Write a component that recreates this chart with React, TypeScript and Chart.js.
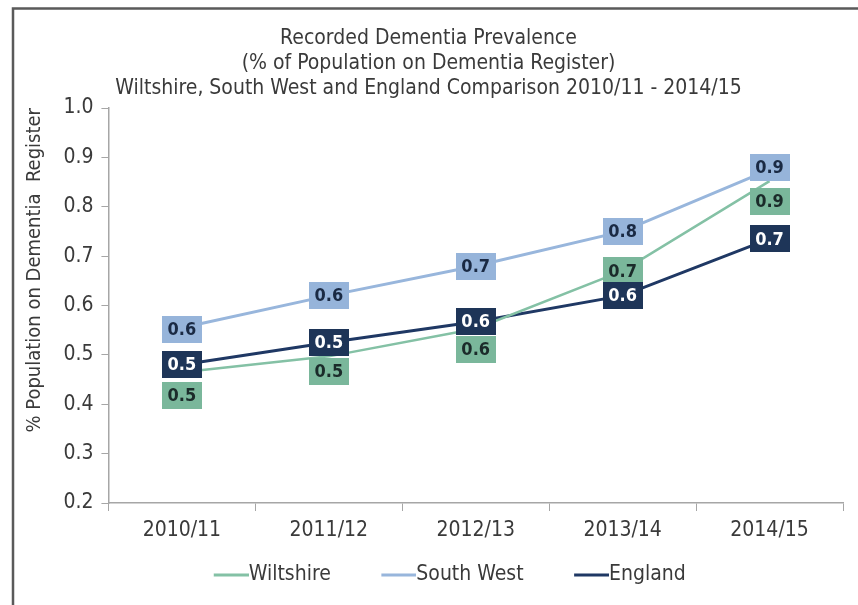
import React, { useEffect, useRef } from 'react';
import { Chart, registerables } from 'chart.js';

Chart.register(...registerables);

const categories = ['2010/11', '2011/12', '2012/13', '2013/14', '2014/15'];
const wiltshire = [0.465, 0.497, 0.553, 0.67, 0.852];
const southWest = [0.555, 0.62, 0.68, 0.75, 0.875];
const england = [0.48, 0.525, 0.567, 0.62, 0.735];
const yTicks = [0.2, 0.3, 0.4, 0.5, 0.6, 0.7, 0.8, 0.9, 1.0];
const seriesNames = ['Wiltshire', 'South West', 'England'];
const titleLines = [
  'Recorded Dementia Prevalence',
  '(% of Population on Dementia Register)',
  'Wiltshire, South West and England Comparison 2010/11 - 2014/15',
];
const yAxisTitle = '% Population on Dementia  Register';

const FONT = '"DejaVu Sans Condensed", "DejaVu Sans", sans-serif';
const TEXT = '#3a3a3a';
const GREEN = '#84C1A5';
const LIGHTBLUE = '#98B6DC';
const NAVY = '#1F3864';

const LEGEND_FONT = 21;
const SWATCH_LINE = 35;
const SWATCH_IMG = 88;

function legendSwatch(color: string): HTMLCanvasElement {
  const c = document.createElement('canvas');
  c.width = SWATCH_IMG;
  c.height = 6;
  const g = c.getContext('2d')!;
  g.strokeStyle = color;
  g.lineWidth = 3;
  g.beginPath();
  g.moveTo(SWATCH_IMG - SWATCH_LINE, 3);
  g.lineTo(SWATCH_IMG, 3);
  g.stroke();
  return c;
}

const boxLabels = {
  id: 'boxLabels',
  afterDatasetsDraw(chart: any) {
    const ctx = chart.ctx as CanvasRenderingContext2D;
    ctx.save();
    chart.data.datasets.forEach((ds: any, di: number) => {
      const meta = chart.getDatasetMeta(di);
      const st = ds.boxLabel;
      meta.data.forEach((pt: any, i: number) => {
        const text = Number(ds.data[i]).toFixed(1);
        ctx.font = 'bold 18px ' + FONT;
        const w = ctx.measureText(text).width + 11;
        const h = 27;
        const x = pt.x;
        const y = pt.y + st.offsets[i];
        ctx.fillStyle = st.bg;
        ctx.fillRect(Math.round(x - w / 2), Math.round(y - h / 2), Math.round(w), h);
        ctx.fillStyle = st.color;
        ctx.textAlign = 'center';
        ctx.textBaseline = 'middle';
        ctx.fillText(text, x, y + 1);
      });
    });
    ctx.restore();
  },
};

const frame = {
  id: 'frame',
  beforeDraw(chart: any) {
    const ctx = chart.ctx as CanvasRenderingContext2D;
    ctx.save();
    ctx.fillStyle = '#ffffff';
    ctx.fillRect(0, 0, chart.width, chart.height);
    ctx.strokeStyle = '#5a5a5a';
    ctx.lineWidth = 2.5;
    ctx.beginPath();
    ctx.moveTo(13, chart.height + 2);
    ctx.lineTo(13, 8.5);
    ctx.lineTo(chart.width + 2, 8.5);
    ctx.stroke();
    ctx.restore();
  },
};

export default function App() {
  const ref = useRef<HTMLCanvasElement | null>(null);
  useEffect(() => {
    if (!ref.current) return;
    const chart = new Chart(ref.current, {
      type: 'line',
      data: {
        labels: categories,
        datasets: [
          {
            label: seriesNames[0],
            data: wiltshire,
            borderColor: GREEN,
            backgroundColor: GREEN,
            borderWidth: 2.5,
            pointRadius: 0,
            pointHoverRadius: 0,
            pointStyle: legendSwatch(GREEN) as any,
            boxLabel: { bg: '#7AB79B', color: '#1b2b2a', offsets: [23, 15, 21, 0, 20] },
          } as any,
          {
            label: seriesNames[1],
            data: southWest,
            borderColor: LIGHTBLUE,
            backgroundColor: LIGHTBLUE,
            borderWidth: 3,
            pointRadius: 0,
            pointHoverRadius: 0,
            pointStyle: legendSwatch(LIGHTBLUE) as any,
            boxLabel: { bg: '#96B4DA', color: '#1a2a44', offsets: [2, 0, 0, 0, -2] },
          } as any,
          {
            label: seriesNames[2],
            data: england,
            borderColor: NAVY,
            backgroundColor: NAVY,
            borderWidth: 3,
            pointRadius: 0,
            pointHoverRadius: 0,
            pointStyle: legendSwatch(NAVY) as any,
            boxLabel: { bg: '#1E3558', color: '#ffffff', offsets: [0, 0, 0, 0, 0] },
          } as any,
        ],
      },
      options: {
        responsive: false,
        animation: false,
        devicePixelRatio: 1,
        layout: { padding: { left: 14, right: 15, top: 10, bottom: 9.5 } },
        plugins: {
          tooltip: { enabled: false },
          title: {
            display: true,
            text: titleLines,
            color: TEXT,
            font: { family: FONT, size: 21, weight: 'normal', lineHeight: 25 / 21 },
            padding: { top: 16.5, bottom: 6.5 },
          },
          legend: {
            display: true,
            position: 'bottom',
            labels: {
              usePointStyle: true,
              pointStyleWidth: SWATCH_IMG - LEGEND_FONT,
              boxHeight: LEGEND_FONT,
              padding: 8,
              color: TEXT,
              font: { family: FONT, size: LEGEND_FONT },
            },
          },
        },
        scales: {
          x: {
            type: 'category',
            offset: true,
            grid: { offset: true, drawOnChartArea: false, drawTicks: true, tickLength: 8, color: '#a6a6a6' },
            border: { color: '#a6a6a6', width: 1.5 },
            ticks: { color: TEXT, font: { family: FONT, size: 21 }, padding: 7, maxRotation: 0 },
            afterFit: (s: any) => { s.height += 6.3; },
          },
          y: {
            min: 0.2,
            max: 1.0,
            afterBuildTicks: (axis: any) => { axis.ticks = yTicks.map((v) => ({ value: v })); },
            grid: { drawOnChartArea: false, drawTicks: true, tickLength: 7, color: '#a6a6a6' },
            border: { color: '#a6a6a6', width: 1.5 },
            ticks: {
              color: TEXT,
              font: { family: FONT, size: 21 },
              padding: 8,
              callback: (v: any) => Number(v).toFixed(1),
            },
            title: {
              display: true,
              text: yAxisTitle,
              align: 'end',
              color: TEXT,
              font: { family: FONT, size: 20, lineHeight: 1.2 },
              padding: { top: 9, bottom: 8.4 },
            },
          },
        },
      },
      plugins: [frame, boxLabels],
    });
    return () => chart.destroy();
  }, []);
  return (
    <div style={{ position: 'absolute', left: 0, top: 0, width: 858, height: 605, background: '#fff' }}>
      <canvas ref={ref} width={858} height={605} style={{ width: 858, height: 605, display: 'block' }} />
    </div>
  );
}
